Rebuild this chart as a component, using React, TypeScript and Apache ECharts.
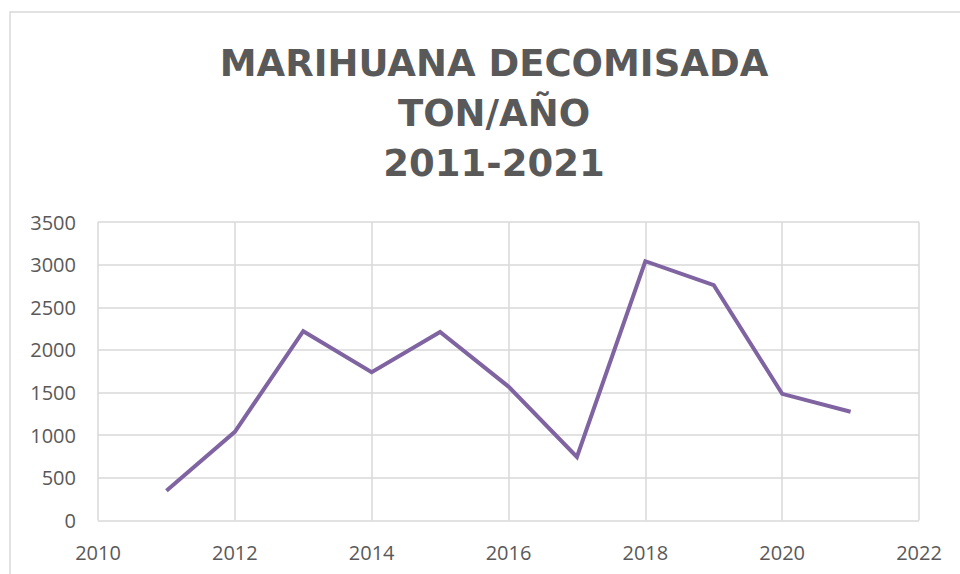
import React, { useEffect, useRef } from "react";
import * as echarts from "echarts";

const titleLines = ["MARIHUANA DECOMISADA", "TON/AÑO", "2011-2021"];
const years = [2011, 2012, 2013, 2014, 2015, 2016, 2017, 2018, 2019, 2020, 2021];
const tons = [350, 1040, 2220, 1740, 2210, 1570, 745, 3040, 2760, 1485, 1275];

export default function App() {
  const ref = useRef<HTMLDivElement>(null);
  useEffect(() => {
    if (!ref.current) return;
    const chart = echarts.init(ref.current, undefined, { renderer: "svg" });
    chart.setOption({
      animation: false,
      backgroundColor: "#ffffff",
      graphic: [
        {
          type: "rect",
          shape: { x: 10, y: 12, width: 1000, height: 620 },
          style: { fill: "none", stroke: "#d9d9d9", lineWidth: 1.5 },
          silent: true,
        },
      ],
      title: {
        text: titleLines.join("\n"),
        left: 489,
        textAlign: "center",
        top: 33,
        textStyle: {
          fontFamily: "DejaVu Sans",
          fontWeight: "bold",
          fontSize: 37,
          color: "#595959",
          lineHeight: 50,
        },
      },
      grid: { left: 98, right: 41, top: 222, bottom: 53.5 },
      xAxis: {
        type: "value",
        min: 2010,
        max: 2022,
        interval: 2,
        axisLine: { show: false },
        axisTick: { show: false },
        splitLine: { show: true, lineStyle: { color: "#d9d9d9", width: 1.5 } },
        axisLabel: {
          color: "#595959",
          fontFamily: "Open Sans",
          fontSize: 20,
          margin: 22,
          formatter: (v: number) => String(v),
        },
      },
      yAxis: {
        type: "value",
        min: 0,
        max: 3500,
        interval: 500,
        axisLine: { show: false },
        axisTick: { show: false },
        splitLine: { show: true, lineStyle: { color: "#d9d9d9", width: 1.5 } },
        axisLabel: {
          color: "#595959",
          fontFamily: "Open Sans",
          fontSize: 20,
          margin: 22,
          formatter: (v: number) => String(v),
        },
      },
      series: [
        {
          type: "line",
          data: years.map((y, i) => [y, tons[i]]),
          showSymbol: false,
          symbol: "none",
          lineStyle: { color: "#8064a2", width: 4, cap: "butt", join: "miter" },
        },
      ],
    });
    return () => chart.dispose();
  }, []);
  return (
    <div
      ref={ref}
      style={{ position: "absolute", left: 0, top: 0, width: 960, height: 574 }}
    />
  );
}
